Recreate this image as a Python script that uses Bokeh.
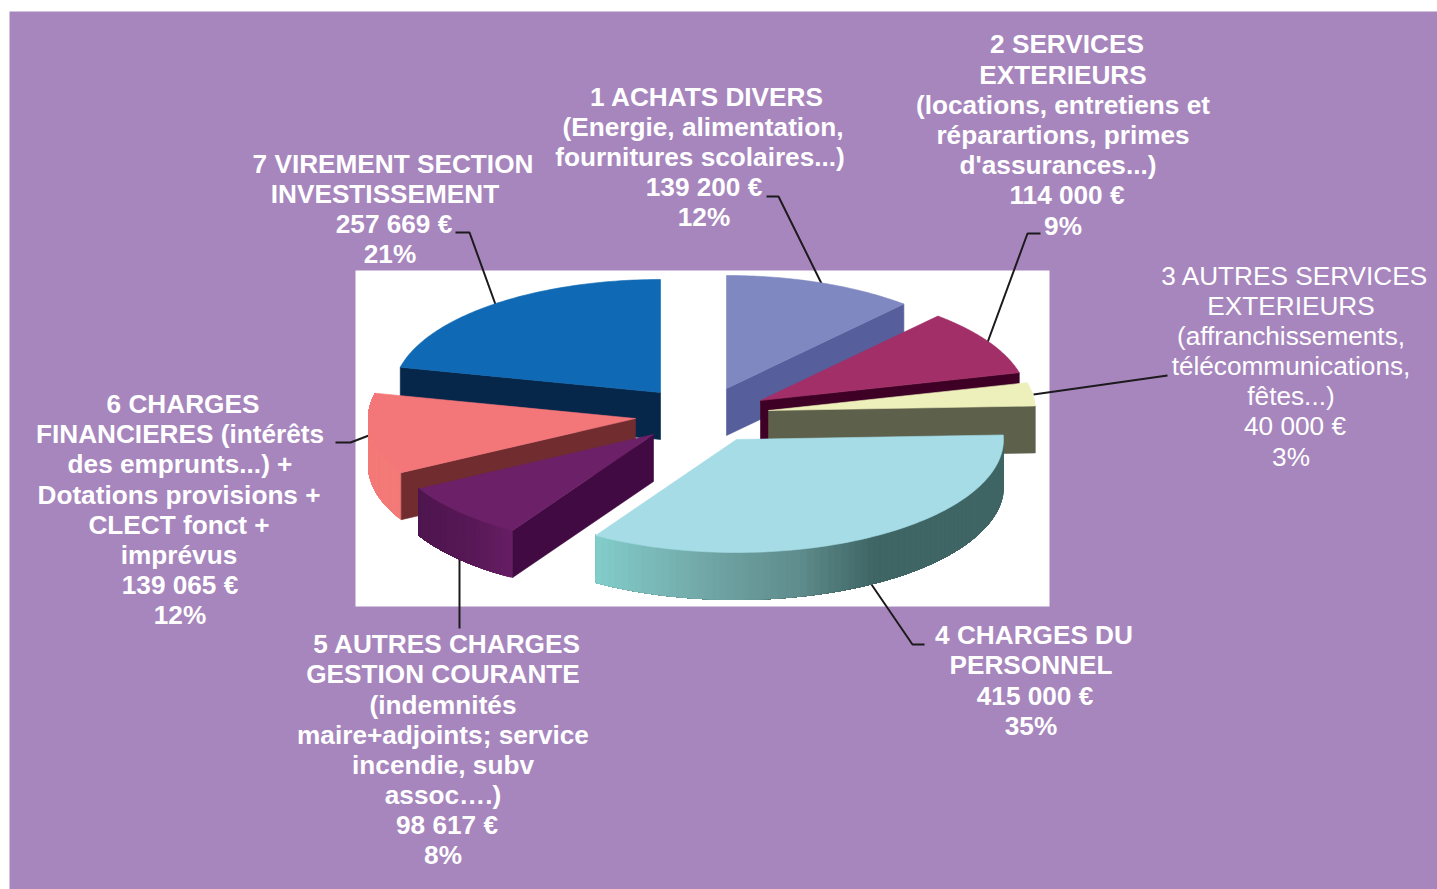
import numpy as np
from bokeh.plotting import figure
from bokeh.embed import file_html
from bokeh.resources import INLINE
from bokeh.core.properties import value

# ---- data ----
categories = ["1 ACHATS DIVERS", "2 SERVICES EXTERIEURS", "3 AUTRES SERVICES EXTERIEURS",
              "4 CHARGES DU PERSONNEL", "5 AUTRES CHARGES GESTION COURANTE",
              "6 CHARGES FINANCIERES", "7 VIREMENT SECTION INVESTISSEMENT"]
amounts = [139200, 114000, 40000, 415000, 98617, 139065, 257669]

top_colors = ["#7f88c0", "#a22f68", "#edf0bb", "#a5dce5", "#6c2068", "#f37679", "#0f69b4"]
face_colors = ["#565f9c", "#3e0024", "#5d604b", None, "#420a42", "#712c30", "#07274a"]
# which radial edge shows a side wall: "end" = clockwise end, "start" = clockwise start
face_edge = ["end", "end", "end", None, "start", "start", "start"]
rim_stops = [None, None, None,
             [(0.0, "#83cdca"), (0.3, "#6fa3a3"), (0.5, "#5f8c8c"), (0.68, "#3f6565"), (1.0, "#3f6565")],
             [(0.0, "#4f1750"), (0.6, "#5a1a58"), (1.0, "#681f65")],
             [(0.0, "#f47b78"), (1.0, "#f47b78")],
             None]
# exploded slice apexes on the page
apex_x = [726, 760, 768, 736, 653, 635, 660]
apex_y = [388, 400, 410, 439, 434, 418, 392]
draw_order = [0, 1, 2, 6, 5, 4, 3]

RX, RY, DEPTH = 267.0, 113.0, 47.0

labels = [
    (True, [("1 ACHATS DIVERS", 707, 97), ("(Energie, alimentation,", 703, 127),
            ("fournitures scolaires...)", 700, 157), ("139 200 €", 704, 187), ("12%", 704, 217)]),
    (True, [("2 SERVICES", 1067, 44), ("EXTERIEURS", 1063, 75), ("(locations, entretiens et", 1063, 105),
            ("réparartions, primes", 1063, 135), ("d'assurances...)", 1058, 165),
            ("114 000 €", 1067, 195), ("9%", 1063, 226)]),
    (False, [("3 AUTRES SERVICES", 1295, 276), ("EXTERIEURS", 1291, 306), ("(affranchissements,", 1291, 336),
             ("télécommunications,", 1291, 366), ("fêtes...)", 1291, 396), ("40 000 €", 1295, 426), ("3%", 1291, 457)]),
    (True, [("4 CHARGES DU", 1034, 635), ("PERSONNEL", 1031, 665), ("415 000 €", 1035, 696), ("35%", 1031, 726)]),
    (True, [("5 AUTRES CHARGES", 447, 644), ("GESTION COURANTE", 443, 674), ("(indemnités", 443, 705),
            ("maire+adjoints; service", 443, 735), ("incendie, subv", 443, 765), ("assoc….)", 443, 795),
            ("98 617 €", 447, 825), ("8%", 443, 855)]),
    (True, [("6 CHARGES", 183, 404), ("FINANCIERES (intérêts", 180, 434), ("des emprunts...) +", 180, 464),
            ("Dotations provisions +", 179, 495), ("CLECT fonct +", 179, 525), ("imprévus", 179, 555),
            ("139 065 €", 180, 585), ("12%", 180, 615)]),
    (True, [("7 VIREMENT SECTION", 393, 164), ("INVESTISSEMENT", 385, 194), ("257 669 €", 394, 224), ("21%", 390, 254)]),
]
text_dx, text_dy = -0.5, -1.0
leader_xs = [[766, 778, 821], [1040, 1027, 987], [1033, 1167], [871, 912, 924],
             [459, 459], [335, 350, 371], [455, 469, 495]]
leader_ys = [[196, 196, 283], [233, 233, 342], [394, 375], [584, 644, 644],
             [558, 628], [442, 442, 434], [232, 232, 304]]

# ---- geometry from the values ----
fractions = np.array(amounts, dtype=float) / sum(amounts)
edges = np.concatenate([[0.0], np.cumsum(fractions)]) * 2 * np.pi


def rim_xy(i, a):
    return apex_x[i] + RX * np.sin(a), apex_y[i] - RY * np.cos(a)


def hex2rgb(h):
    return np.array([int(h[j:j + 2], 16) for j in (1, 3, 5)], dtype=float)


def stop_color(stops, t):
    ts = [s[0] for s in stops]
    rgb = [np.interp(t, ts, [hex2rgb(s[1])[k] for s in stops]) for k in range(3)]
    return "#%02x%02x%02x" % tuple(int(round(c)) for c in rgb)


pxs, pys, pcs = [], [], []


def add(xs, ys, c):
    pxs.append(list(map(float, xs)))
    pys.append(list(map(float, ys)))
    pcs.append(c)


for i in draw_order:
    a0, a1 = edges[i], edges[i + 1]
    ang = np.linspace(a0, a1, 80)
    ax, ay = apex_x[i], apex_y[i]
    # outer wall: each band runs to the far end and the next one paints over it, so no seams
    if rim_stops[i] is not None:
        rx, ry = rim_xy(i, ang)
        x_lo, x_hi = rx.min(), rx.max()
        for k in range(len(ang) - 1):
            t = ((rx[k] + rx[k + 1]) / 2 - x_lo) / (x_hi - x_lo)
            add(np.concatenate([rx[k:], rx[k:][::-1]]),
                np.concatenate([ry[k:], ry[k:][::-1] + DEPTH]),
                stop_color(rim_stops[i], t))
    # radial wall
    if face_colors[i] is not None:
        e = a1 if face_edge[i] == "end" else a0
        ex, ey = rim_xy(i, e)
        add([ax, ex, ex, ax], [ay, ey, ey + DEPTH, ay + DEPTH], face_colors[i])
    # top
    tx, ty = rim_xy(i, ang)
    add(np.concatenate([[ax], tx]), np.concatenate([[ay], ty]), top_colors[i])

# ---- figure ----
p = figure(width=1437, height=889, x_range=(0, 1437), y_range=(889, 0),
           output_backend="svg", toolbar_location=None, min_border=0)
p.axis.visible = False
p.grid.visible = False
p.outline_line_color = None
p.background_fill_color = "white"
p.border_fill_color = "white"

p.quad(left=[9], right=[1437], top=[11], bottom=[889], fill_color="#a786bd", line_color=None)
p.quad(left=[355], right=[1049], top=[270], bottom=[606], fill_color="white", line_color=None)
p.multi_line(leader_xs, leader_ys, line_color="#1c1a1c", line_width=2)
p.patches(pxs, pys, fill_color=pcs, line_color=pcs, line_width=0.6)

for bold, lines in labels:
    p.text([l[1] + text_dx for l in lines], [l[2] + text_dy for l in lines], text=[l[0] for l in lines],
           text_color="white", text_align="center", text_baseline="middle",
           text_font=value("Liberation Sans"), text_font_size="26.2px",
           text_font_style="bold" if bold else "normal")

open("out.html", "w").write(file_html(p, INLINE))
